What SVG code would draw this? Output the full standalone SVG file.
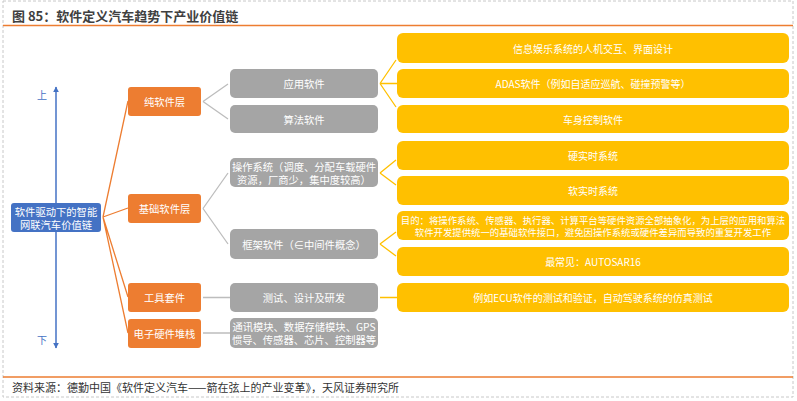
<svg xmlns="http://www.w3.org/2000/svg" width="797" height="401" viewBox="0 0 797 401">
<defs>
<style>
text{font-family:"Noto Sans CJK SC","Liberation Sans",sans-serif;fill:#fff;text-anchor:middle;dominant-baseline:central}
.t{font-size:10.3px}
.y{font-size:10px}
.s{font-size:9.4px}
.org rect{fill:#ED7D31}
.gry rect{fill:#A5A5A5}
.ylw rect{fill:#FFC000}
.lo{stroke:#ED7D31;stroke-width:1.3;fill:none}
.lg{stroke:#BDBDBD;stroke-width:1.3;fill:none}
.ly{stroke:#FFC000;stroke-width:1.3;fill:none}
</style>
<marker id="ah" viewBox="0 0 10 10" refX="9" refY="5" markerWidth="6" markerHeight="6" orient="auto-start-reverse" markerUnits="userSpaceOnUse">
<path d="M0,0 L10,5 L0,10 z" fill="#4472C4"/>
</marker>
</defs>
<rect x="0" y="0" width="797" height="401" fill="#fff"/>
<path d="M3,1 H793 V397 H3 Z" fill="none" stroke="#C8C8C8" stroke-dasharray="3,2"/>
<line x1="3" y1="25.5" x2="793" y2="25.5" stroke="#ED7D31" stroke-width="1.5"/>
<line x1="3" y1="377" x2="793" y2="377" stroke="#ED7D31" stroke-width="1.5"/>
<text x="12" y="15" style="font-size:13px;font-weight:bold;fill:#404040;text-anchor:start">图 85：软件定义汽车趋势下产业价值链</text>
<text x="12" y="387" style="font-size:11px;fill:#333;text-anchor:start">资料来源：德勤中国《软件定义汽车——箭在弦上的产业变革》，天风证券研究所</text>

<g id="connectors">
<line x1="56" y1="348" x2="56" y2="87" stroke="#4472C4" stroke-width="1.5" marker-start="url(#ah)" marker-end="url(#ah)"/>
<path class="lo" d="M103,217 L128,101 M103,217 L128,208 M103,217 L128,297 M103,217 L128,333"/>
<path class="lg" d="M203,101.5 L228,84 M203,101.5 L228,119 M203,208.5 L228,173 M203,208.5 L228,244 M203,297.5 H230 M203,333 H230"/>
<path class="ly" d="M380,83.5 L396,60 M380,83.5 H397 M380,83.5 L396,107 M380,173 L396,160 M380,173 L396,185 M380,244 L396,232 M380,244 L396,256 M380,297.5 H397"/>
</g>
<text x="42" y="94" style="font-size:10px;fill:#4472C4">上</text>
<text x="42" y="339" style="font-size:10px;fill:#4472C4">下</text>

<g id="root"><rect x="11" y="203" width="90" height="29" rx="3" fill="#4472C4"/>
<text class="t" x="56" y="211">软件驱动下的智能</text><text class="t" x="56" y="224">网联汽车价值链</text></g>

<g id="pure" class="org"><rect x="128" y="87" width="73" height="29" rx="3"/><text class="t" x="164.5" y="101.5">纯软件层</text></g>
<g id="base" class="org"><rect x="128" y="194" width="73" height="29" rx="3"/><text class="t" x="164.5" y="208.5">基础软件层</text></g>
<g id="tools" class="org"><rect x="128" y="283" width="73" height="29" rx="3"/><text class="t" x="164.5" y="297.5">工具套件</text></g>
<g id="hw" class="org"><rect x="128" y="319" width="73" height="29" rx="3"/><text class="t" x="164.5" y="333.5">电子硬件堆栈</text></g>

<g id="app" class="gry"><rect x="230" y="69" width="148" height="29" rx="5"/><text class="t" x="304" y="83.5">应用软件</text></g>
<g id="algo" class="gry"><rect x="230" y="105" width="148" height="28" rx="5"/><text class="t" x="304" y="119">算法软件</text></g>
<g id="os" class="gry"><rect x="230" y="158" width="148" height="29" rx="5"/><text class="t" x="304" y="166.5">操作系统（调度、分配车载硬件</text><text class="t" x="304" y="179">资源，厂商少，集中度较高）</text></g>
<g id="fw" class="gry"><rect x="230" y="229" width="148" height="30" rx="5"/><text class="t" x="304" y="244">框架软件（∈中间件概念）</text></g>
<g id="test" class="gry"><rect x="230" y="283" width="148" height="29" rx="5"/><text class="t" x="304" y="297.5">测试、设计及研发</text></g>
<g id="comm" class="gry"><rect x="230" y="318" width="148" height="30" rx="5"/><text class="t" x="304" y="326.5">通讯模块、数据存储模块、GPS</text><text class="t" x="304" y="339.5">惯导、传感器、芯片、控制器等</text></g>

<g id="info" class="ylw"><rect x="397" y="33" width="392" height="30" rx="6"/><text class="y" x="593" y="48">信息娱乐系统的人机交互、界面设计</text></g>
<g id="adas" class="ylw"><rect x="397" y="69" width="392" height="29" rx="6"/><text class="y" x="593" y="83.5">ADAS软件（例如自适应巡航、碰撞预警等）</text></g>
<g id="body" class="ylw"><rect x="397" y="105" width="392" height="28" rx="6"/><text class="y" x="593" y="119">车身控制软件</text></g>
<g id="hrt" class="ylw"><rect x="397" y="141" width="392" height="29" rx="6"/><text class="y" x="593" y="155.5">硬实时系统</text></g>
<g id="srt" class="ylw"><rect x="397" y="176" width="392" height="29" rx="6"/><text class="y" x="593" y="190.5">软实时系统</text></g>
<g id="goal" class="ylw"><rect x="397" y="211" width="392" height="29" rx="6"/><text class="s" x="593" y="219.5">目的：将操作系统、传感器、执行器、计算平台等硬件资源全部抽象化，为上层的应用和算法</text><text class="s" x="593" y="231.5">软件开发提供统一的基础软件接口，避免因操作系统或硬件差异而导致的重复开发工作</text></g>
<g id="autosar" class="ylw"><rect x="397" y="247" width="392" height="29" rx="6"/><text class="y" x="593" y="261.5">最常见：AUTOSAR16</text></g>
<g id="ecu" class="ylw"><rect x="397" y="283" width="392" height="29" rx="6"/><text class="y" x="593" y="297.5">例如ECU软件的测试和验证，自动驾驶系统的仿真测试</text></g>
</svg>
